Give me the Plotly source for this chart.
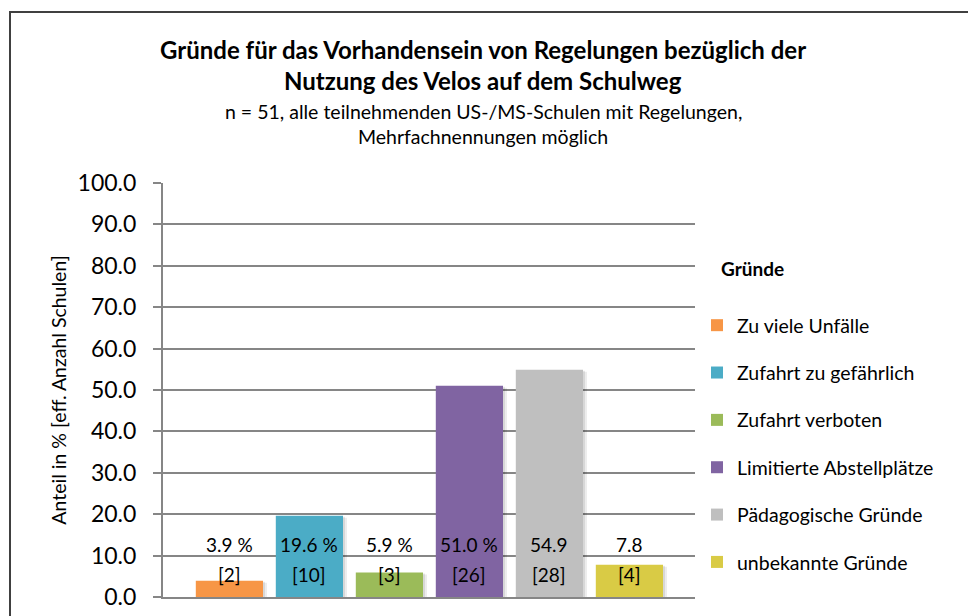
import plotly.graph_objects as go

# Reasons and their shares (percent of schools) with absolute counts
categories = [
    "Zu viele Unfälle",
    "Zufahrt zu gefährlich",
    "Zufahrt verboten",
    "Limitierte Abstellplätze",
    "Pädagogische Gründe",
    "unbekannte Gründe",
]
shares = [3.9, 19.6, 5.9, 51.0, 54.9, 7.8]
counts = [2, 10, 3, 26, 28, 4]
share_labels = ["3.9 %", "19.6 %", "5.9 %", "51.0 %", "54.9", "7.8"]
colors = ["#F79646", "#4BACC6", "#9BBB59", "#8064A2", "#BFBFBF", "#D9CB45"]
y_ticks = [0, 10, 20, 30, 40, 50, 60, 70, 80, 90, 100]

FONT = "Lato"
W, H = 968, 616
ML, MR, MT, MB = 163, 273, 183, 19
PW = W - ML - MR
PH = H - MT - MB
X_RANGE = [-0.83, 5.82]
BAR_W = 0.84
UNIT_PX = PW / (X_RANGE[1] - X_RANGE[0])


def px_x(x):
    return (x - ML) / PW


def px_y(y):
    return 1 - (y - MT) / PH


fig = go.Figure()

# soft drop shadow behind the bars
for off, alpha in [(4, 0.07), (2, 0.09)]:
    fig.add_trace(go.Bar(
        x=[i + off / UNIT_PX for i in range(len(shares))],
        y=[v - off * 100 / PH / 2 for v in shares],
        width=BAR_W, marker=dict(color=f"rgba(0,0,0,{alpha})", line=dict(width=0)),
        showlegend=False, hoverinfo="skip",
    ))

for i, (cat, val, col) in enumerate(zip(categories, shares, colors)):
    fig.add_trace(go.Bar(
        x=[i], y=[val], name=cat, width=BAR_W,
        marker=dict(color=col, line=dict(width=0)),
        legendgroup=cat,
        hoverinfo="name+y",
    ))

annotations = []
for i, (lab, n) in enumerate(zip(share_labels, counts)):
    annotations.append(dict(x=i, y=12.6, xref="x", yref="y", text=lab,
                            showarrow=False, font=dict(family=FONT, size=19, color="#000")))
    annotations.append(dict(x=i, y=5.5, xref="x", yref="y", text=f"[{n}]",
                            showarrow=False, font=dict(family=FONT, size=19, color="#000")))

# Title and subtitle
title_lines = [
    ("<b>Gründe für das Vorhandensein von Regelungen bezüglich der</b>", 50, 24),
    ("<b>Nutzung des Velos auf dem Schulweg</b>", 80, 24),
    ("n = 51, alle teilnehmenden US-/MS-Schulen mit Regelungen,", 111, 19.5),
    ("Mehrfachnennungen möglich", 137, 19.5),
]
for txt, yp, fs in title_lines:
    annotations.append(dict(
        x=px_x(483), y=px_y(yp), xref="paper", yref="paper", text=txt,
        showarrow=False, font=dict(family=FONT, size=fs, color="#000"),
        xanchor="center", yanchor="middle"))

# Legend heading
annotations.append(dict(
    x=px_x(719), y=px_y(268), xref="paper", yref="paper", text="<b>Gründe</b>",
    showarrow=False, font=dict(family=FONT, size=19, color="#000"),
    xanchor="left", yanchor="middle"))

# Outer chart frame
shapes = [dict(
    type="rect", xref="paper", yref="paper",
    x0=px_x(10), x1=px_x(W + 20),
    y0=px_y(H + 20), y1=px_y(12),
    line=dict(color="#404040", width=2), layer="below")]

fig.update_layout(
    width=W, height=H,
    margin=dict(l=ML, r=MR, t=MT, b=MB, autoexpand=False),
    paper_bgcolor="white", plot_bgcolor="white",
    barmode="overlay",
    font=dict(family=FONT, color="#000"),
    showlegend=True,
    legend=dict(
        xref="container", yref="container",
        x=697 / W, y=1 - 306 / H, xanchor="left", yanchor="top",
        font=dict(family=FONT, size=19.5, color="#000"),
        tracegroupgap=19, itemwidth=30,
        bgcolor="rgba(0,0,0,0)",
    ),
    annotations=annotations,
    shapes=shapes,
    xaxis=dict(range=X_RANGE, showticklabels=False, showgrid=False,
               zeroline=False, showline=True, linecolor="#868686", linewidth=2,
               ticks="", automargin=False),
    yaxis=dict(range=[0, 100], tickvals=y_ticks, tickformat=".1f",
               showgrid=True, gridcolor="#868686", gridwidth=1.5,
               zeroline=False, showline=True, linecolor="#868686", linewidth=2,
               ticks="outside", ticklen=8, tickcolor="#868686", tickwidth=1.5,
               ticklabelstandoff=12, automargin=False,
               tickfont=dict(family=FONT, size=23, color="#000"),
               title=dict(text="Anteil in % [eff. Anzahl Schulen]", standoff=6,
                          font=dict(family=FONT, size=19.5, color="#000"))),
)

fig.write_html("out.html")
